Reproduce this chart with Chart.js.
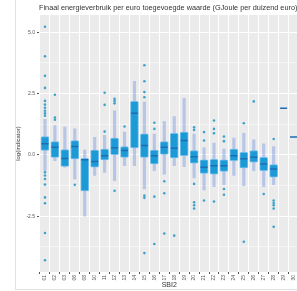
<!DOCTYPE html>
<html>
<head>
<meta charset="utf-8">
<script src="https://cdn.jsdelivr.net/npm/chart.js@4"></script>
<style>
html, body { margin: 0; padding: 0; background: #fff; overflow: hidden; }
#wrap { position: relative; width: 297px; height: 291px; overflow: hidden; }
#frame { position: absolute; left: 15px; top: -1px; width: 300px; height: 290px; border-left: 1px solid #e2e2e2; border-bottom: 1px solid #e2e2e2; pointer-events: none; }
canvas { position: absolute; left: 0; top: 0; }
</style>
</head>
<body>
<div id="wrap">
<canvas id="chart" width="305" height="291"></canvas>
<div id="frame"></div>
</div>
<script>
const chartTitle = 'Finaal energieverbruik per euro toegevoegde waarde (GJoule per duizend euro)';
const sbiLabels = ['01','02','03','06','08','10','11','12','13','14','15','16','17','18','19','20','21','22','23','24','25','26','27','28','29','30'];
const yTicks = [-2.5, 0, 2.5, 5];

const q1 =       [0.18, -0.10, -0.47, -0.16, -1.47, -0.50, -0.20, 0.01, -0.10, 0.29, -0.10, -0.37, 0.00, -0.12, -0.03, -0.34, -0.75, -0.78, -0.67, -0.23, -0.53, -0.30, -0.64, -0.91, 1.90, 0.73];
const medians =  [0.45, 0.31, -0.15, 0.34, -0.20, -0.27, -0.03, 0.29, 0.18, 1.70, 0.38, -0.03, 0.31, 0.27, 0.59, -0.07, -0.50, -0.44, -0.44, -0.03, -0.16, -0.10, -0.37, -0.57, 1.90, 0.73];
const q3 =       [0.75, 0.54, 0.22, 0.58, -0.14, 0.20, 0.24, 0.69, 0.34, 2.18, 0.86, 0.20, 0.54, 0.88, 0.93, 0.18, -0.20, -0.18, -0.20, 0.24, 0.11, 0.18, -0.10, -0.39, 1.90, 0.73];
const whiskerHi = [1.45, 1.20, 1.13, 1.06, 0.20, 0.72, 0.80, 1.80, 0.93, 3.00, 2.15, 0.85, 1.36, 1.56, 2.31, 0.85, 0.29, 0.48, 0.24, 0.69, 0.88, 0.61, 0.45, 0.34, null, null];
const whiskerLo = [-0.64, -0.23, -0.50, -0.98, -2.50, -0.84, -0.71, -1.05, -0.44, -0.44, -1.39, -0.64, -0.78, -0.44, -0.48, -0.94, -1.43, -1.29, -1.21, -0.84, -1.25, -0.64, -1.29, -1.21, null, null];
const outliers = [
    [5.22, 4.02, 3.22, 2.73, 2.2, 2.05, 1.92, 1.8, 1.7, 1.6, -0.71, -0.84, -0.98, -1.21, -1.73, -1.97, -3.18, -4.29],
    [2.45, 1.52, 1.43],
    [],
    [-1.22],
    [],
    [],
    [2.53, 2.04, 0.95],
    [2.29, 2.2, 2.1, -1.46],
    [1.16],
    [],
    [3.65, 3.0, 2.56, 2.35, -1.66, -1.75, -4.0],
    [1.31, 1.06, -1.7, -3.63],
    [-1.07, -1.56, -3.2],
    [-3.29],
    [],
    [1.13, 1.02, -1.18, -1.93, -2.05, -2.18],
    [0.93, 0.59, -1.86],
    [1.4, 1.06, 0.88, -1.9],
    [0.75, 0.56, -1.39, -1.62],
    [],
    [1.29, -3.54],
    [2.18],
    [-1.59],
    [0.65, -1.86, -1.96, -2.05, -2.18, -2.93],
    [],
    []
];

const whiskerData = [];
const boxData = [];
const medianData = [];
const outlierData = [];
sbiLabels.forEach((label, i) => {
    if (whiskerLo[i] !== null) whiskerData.push({ x: i, y: [whiskerLo[i], whiskerHi[i]] });
    if (q3[i] > q1[i]) boxData.push({ x: i, y: [q1[i], q3[i]] });
    medianData.push({ x: i, y: medians[i] });
    outliers[i].forEach(v => outlierData.push({ x: i, y: v }));
});

const font = 'Liberation Sans, Arial, sans-serif';
const isMajor = v => Math.abs(v / 2.5 - Math.round(v / 2.5)) < 1e-6;

// grey ggplot-style panel + title starting at the panel's left edge
const panelPlugin = {
    id: 'panel',
    beforeDraw(chart) {
        const { ctx, chartArea } = chart;
        ctx.save();
        ctx.fillStyle = '#ebebeb';
        ctx.fillRect(chartArea.left, chartArea.top, chartArea.right - chartArea.left, chartArea.bottom - chartArea.top);
        ctx.restore();
    },
    afterDraw(chart) {
        const { ctx, chartArea } = chart;
        ctx.save();
        ctx.fillStyle = '#333';
        ctx.font = '7.3px ' + font;
        ctx.textBaseline = 'middle';
        ctx.fillText(chartTitle, chartArea.left, 8);
        ctx.restore();
    }
};

new Chart(document.getElementById('chart').getContext('2d'), {
    type: 'bar',
    data: {
        datasets: [
            {
                label: 'whiskers',
                data: whiskerData,
                backgroundColor: 'rgba(140, 165, 225, 0.55)',
                barThickness: 2.5,
                grouped: false,
                order: 4
            },
            {
                label: 'boxes',
                data: boxData,
                backgroundColor: '#1b9ad6',
                borderColor: 'rgba(100, 185, 235, 0.9)',
                borderWidth: 1,
                borderSkipped: false,
                borderRadius: 1.5,
                barThickness: 8,
                grouped: false,
                order: 2
            },
            {
                type: 'scatter',
                label: 'medians',
                data: medianData,
                pointStyle: 'line',
                radius: 3.5,
                borderColor: '#1f6cb0',
                borderWidth: 1.5,
                order: 1
            },
            {
                type: 'scatter',
                label: 'outliers',
                data: outlierData,
                pointStyle: 'circle',
                radius: 1.3,
                backgroundColor: '#3ea3c8',
                borderWidth: 0,
                order: 3
            }
        ]
    },
    options: {
        responsive: false,
        animation: false,
        layout: { padding: { left: 13, top: 15, right: 4, bottom: 2 } },
        plugins: {
            legend: { display: false },
            tooltip: { enabled: false }
        },
        scales: {
            x: {
                type: 'linear',
                min: -0.6,
                max: 25.6,
                offset: false,
                afterBuildTicks(scale) {
                    scale.ticks = sbiLabels.map((l, i) => ({ value: i }));
                },
                afterFit(scale) { scale.height = 17; },
                border: { display: false },
                grid: { color: '#ffffff', lineWidth: 1, tickLength: 2, tickColor: '#555' },
                ticks: {
                    font: { family: font, size: 5 },
                    color: '#555',
                    padding: 1,
                    minRotation: 90,
                    maxRotation: 90,
                    autoSkip: false,
                    callback: v => sbiLabels[v]
                },
                title: { display: true, text: 'SBI2', font: { family: font, size: 7 }, color: '#333', padding: 0 }
            },
            y: {
                min: -4.77,
                max: 5.7,
                afterBuildTicks(scale) {
                    const t = [];
                    for (let v = -3.75; v <= 5.0001; v += 1.25) t.push({ value: Math.round(v * 100) / 100 });
                    scale.ticks = t;
                },
                afterFit(scale) { scale.width = 26; },
                border: { display: false },
                grid: {
                    color: '#ffffff',
                    lineWidth: c => isMajor(c.tick.value) ? 1 : 0.5,
                    tickLength: 2,
                    tickColor: c => isMajor(c.tick.value) ? '#555' : 'rgba(0,0,0,0)'
                },
                ticks: {
                    font: { family: font, size: 5 },
                    color: '#555',
                    padding: 2,
                    autoSkip: false,
                    callback: v => yTicks.includes(v) ? v.toFixed(1) : ''
                },
                title: { display: true, text: 'log(indicator)', font: { family: font, size: 6 }, color: '#333', padding: 2 }
            }
        }
    },
    plugins: [panelPlugin]
});
</script>
</body>
</html>
